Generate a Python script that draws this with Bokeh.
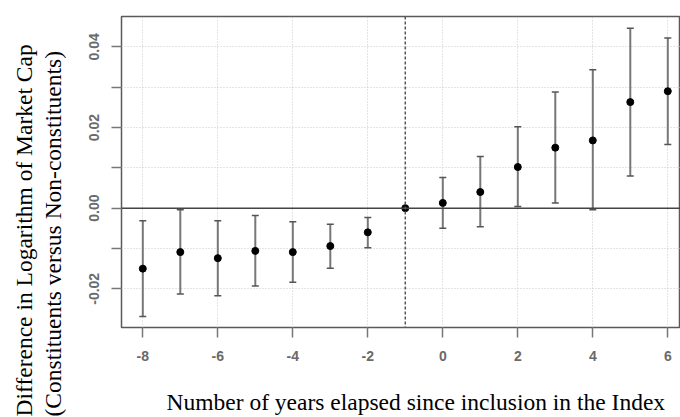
import numpy as np
from bokeh.plotting import figure
from bokeh.models import (ColumnDataSource, Whisker, TeeHead, Span, Title,
                          FixedTicker, Range1d, LinearAxis)
from bokeh.embed import file_html
from bokeh.resources import INLINE

# ---- data ----
years = [-8, -7, -6, -5, -4, -3, -2, -1, 0, 1, 2, 3, 4, 5, 6]
estimate = [-0.0150, -0.0109, -0.0124, -0.0106, -0.0109, -0.0094, -0.0060, 0.0000,
            0.0013, 0.0040, 0.0102, 0.0150, 0.0168, 0.0263, 0.0290]
upper = [-0.0031, -0.0004, -0.0031, -0.0018, -0.0034, -0.0040, -0.0023, 0.0000,
         0.0076, 0.0128, 0.0202, 0.0288, 0.0343, 0.0446, 0.0422]
lower = [-0.0269, -0.0213, -0.0217, -0.0193, -0.0184, -0.0149, -0.0098, 0.0000,
         -0.0050, -0.0046, 0.0004, 0.0013, -0.0004, 0.0080, 0.0158]
reference_year = -1
x_ticks = [-8, -6, -4, -2, 0, 2, 4, 6]
x_tick_labels = ["-8", "-6", "-4", "-2", "0", "2", "4", "6"]
y_ticks = [-0.02, -0.01, 0.00, 0.01, 0.02, 0.03, 0.04]
y_tick_labels = ["-0.02", "", "0.00", "", "0.02", "", "0.04"]
x_title = "Number of years elapsed since inclusion in the Index"
y_title_1 = "Difference in Logarithm of Market Cap"
y_title_2 = "(Constituents versus Non-constituents)"

# ---- layout ----
W, H = 680, 417
FL, FT, FB = 121, 16, 90
x0, x1 = -8.568, 6.339
y0, y1 = -0.0296, 0.04753

p = figure(width=W, height=H, output_backend="svg", toolbar_location=None,
           x_range=Range1d(x0, x1), y_range=Range1d(y0, y1),
           min_border_left=FL, min_border_top=FT, min_border_bottom=FB,
           min_border_right=0, title_location=None)
p.background_fill_color = "white"
p.border_fill_color = "white"
p.outline_line_color = "#5a5a5a"
p.outline_line_width = 1.5

# axes
p.xaxis.ticker = FixedTicker(ticks=x_ticks)
p.xaxis.major_label_overrides = {t: l for t, l in zip(x_ticks, x_tick_labels)}
p.yaxis.ticker = FixedTicker(ticks=y_ticks)
p.yaxis.major_label_overrides = {t: l for t, l in zip(y_ticks, y_tick_labels)}
for ax in (p.xaxis, p.yaxis):
    ax.axis_line_color = None
    ax.major_tick_out = 10
    ax.major_tick_in = 0
    ax.major_tick_line_color = "#777777"
    ax.major_tick_line_width = 1.5
    ax.minor_tick_line_color = None
    ax.major_label_text_font = "Liberation Sans"
    ax.major_label_text_font_size = "14px"
    ax.major_label_text_font_style = "bold"
    ax.major_label_text_color = "#6a6a6a"
p.xaxis.major_label_standoff = 13
p.yaxis.major_label_standoff = 12
p.yaxis.major_label_orientation = "vertical"

# grid
for g in (p.xgrid, p.ygrid):
    g.grid_line_color = "#c8c8c8"
    g.grid_line_dash = "1 2"
    g.grid_line_width = 1
p.xgrid.ticker = FixedTicker(ticks=x_ticks)
p.ygrid.ticker = FixedTicker(ticks=y_ticks)

# reference lines
p.add_layout(Span(location=0, dimension="width", line_color="#444444", line_width=1.5))
p.add_layout(Span(location=reference_year, dimension="height", line_color="#555555",
                  line_width=1.5, line_dash="3 2"))

# error bars
idx = [i for i, y in enumerate(years) if y != reference_year]
wsrc = ColumnDataSource(dict(x=[years[i] for i in idx],
                             upper=[upper[i] for i in idx],
                             lower=[lower[i] for i in idx]))
w = Whisker(base="x", upper="upper", lower="lower", source=wsrc,
            line_color="#777777", line_width=2,
            upper_head=TeeHead(size=7, line_color="#555555", line_width=1.5),
            lower_head=TeeHead(size=7, line_color="#555555", line_width=1.5))
p.add_layout(w)

src = ColumnDataSource(dict(x=years, y=estimate))
p.scatter("x", "y", source=src, size=7, color="black")

# spacer axes (one invisible tick, empty label) to push the titles outward
def spacer(size):
    return LinearAxis(ticker=FixedTicker(ticks=[0]), major_label_overrides={0: ""},
                      axis_line_color=None, major_tick_line_color=None,
                      minor_tick_line_color=None, major_tick_out=size,
                      major_tick_in=0, major_label_standoff=0)

# titles
def mk_title(text, offset, standoff, line_height=1.0):
    return Title(text=text, align="left", offset=offset, standoff=standoff,
                 text_font="Liberation Serif", text_font_size="23.5px",
                 text_font_style="normal", text_color="black",
                 text_line_height=line_height)

p.add_layout(spacer(22), "below")
p.add_layout(mk_title(x_title, 45, 2), "below")
p.add_layout(spacer(13), "left")
p.add_layout(mk_title(y_title_1 + "\n" + y_title_2, -89, 15, 1.1), "left")

open("out.html", "w").write(file_html(p, INLINE))
